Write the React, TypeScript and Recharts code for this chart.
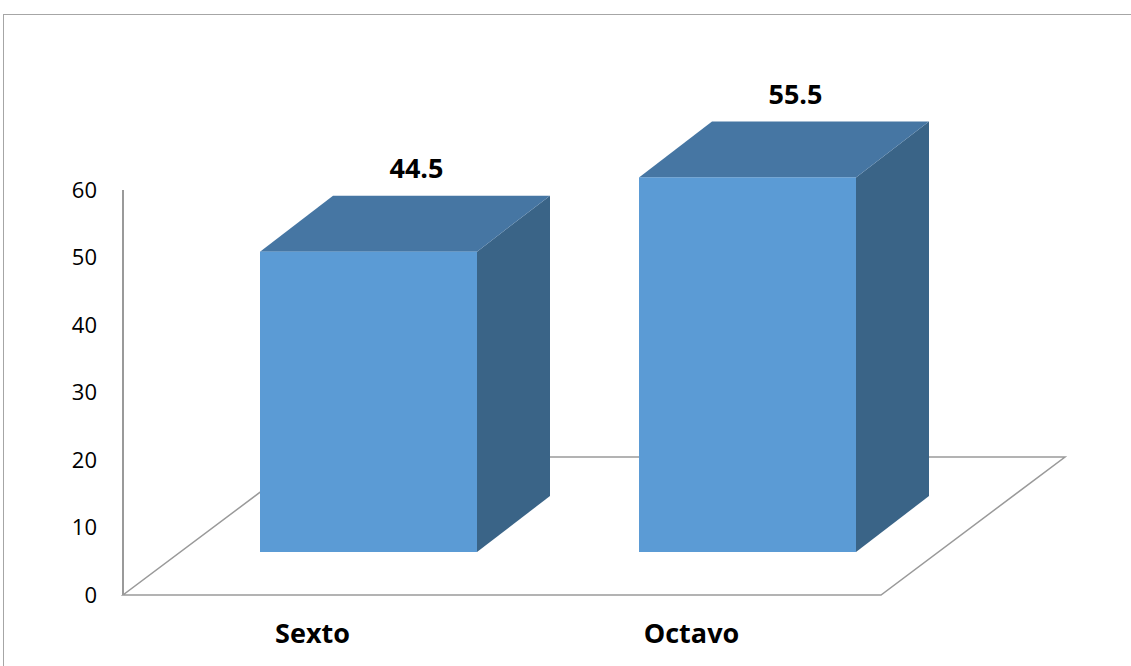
import { BarChart, Bar, XAxis, YAxis, ReferenceArea, LabelList } from 'recharts';

const categories = ['Sexto', 'Octavo'];
const percentages = [44.5, 55.5];
const yTicks = [0, 10, 20, 30, 40, 50, 60];

const data = categories.map((grade, i) => ({ grade, value: percentages[i] }));

// fake 3D projection offsets
const FLOOR_DX = 184;
const FLOOR_DY = -138;
const FRONT_DX = 56;
const FRONT_DY = -43;
const DEPTH_DX = 73;
const DEPTH_DY = -56;

const FRONT = '#5B9BD5';
const TOP = '#4676A3';
const SIDE = '#3A6487';
const GRID = '#9a9a9a';

const Box = (props: any) => {
  const { x, y, width, height } = props;
  const fx = x + FRONT_DX;
  const fy = y + FRONT_DY;
  const bottom = fy + height;
  const top = `${fx},${fy} ${fx + DEPTH_DX},${fy + DEPTH_DY} ${fx + width + DEPTH_DX},${fy + DEPTH_DY} ${fx + width},${fy}`;
  const side = `${fx + width},${fy} ${fx + width + DEPTH_DX},${fy + DEPTH_DY} ${fx + width + DEPTH_DX},${bottom + DEPTH_DY} ${fx + width},${bottom}`;
  return (
    <g>
      <polygon points={side} fill={SIDE} />
      <polygon points={top} fill={TOP} />
      <rect x={fx} y={fy} width={width} height={height} fill={FRONT} />
    </g>
  );
};

const Floor = (props: any) => {
  const { x, y, width, height } = props;
  const by = y + height;
  const pts = `${x},${by} ${x + width},${by} ${x + width + FLOOR_DX},${by + FLOOR_DY} ${x + FLOOR_DX},${by + FLOOR_DY}`;
  return (
    <g>
      <polygon points={pts} fill="none" stroke={GRID} strokeWidth={1.5} />
      <line x1={x} y1={y} x2={x} y2={by} stroke={GRID} strokeWidth={2} />
    </g>
  );
};

const ValueLabel = (props: any) => {
  const { x, y, width, value } = props;
  return (
    <text
      x={x + FRONT_DX + width / 2 + 48}
      y={y + FRONT_DY + DEPTH_DY - 28}
      textAnchor="middle"
      dominantBaseline="central"
      fontFamily="Open Sans"
      fontWeight="bold"
      fontSize={27}
      fill="#000"
    >
      {value}
    </text>
  );
};

export default function App() {
  return (
    <div style={{ position: 'absolute', left: 0, top: 0, width: 1131, height: 666, overflow: 'hidden', background: '#fff' }}>
      <div
        style={{
          position: 'absolute',
          left: 3,
          top: 14,
          width: 1200,
          height: 800,
          border: '1.5px solid #a6a6a6',
        }}
      />
      <BarChart
        width={1131}
        height={666}
        data={data}
        margin={{ top: 190, right: 250, bottom: 11, left: 0 }}
        style={{ position: 'absolute', left: 0, top: 0 }}
      >
        <XAxis
          dataKey="grade"
          axisLine={false}
          tickLine={false}
          height={60}
          tickMargin={23}
          tick={{ fill: '#000', fontFamily: 'Open Sans', fontWeight: 'bold', fontSize: 27 }}
        />
        <YAxis
          domain={[0, 60]}
          ticks={yTicks}
          width={123}
          axisLine={false}
          tickLine={false}
          tickMargin={20}
          tick={{ fill: '#000', fontFamily: 'Open Sans', fontSize: 22 }}
        />
        <ReferenceArea y1={0} y2={60} shape={<Floor />} ifOverflow="visible" />
        <Bar dataKey="value" barSize={217} shape={<Box />} isAnimationActive={false}>
          <LabelList dataKey="value" content={<ValueLabel />} />
        </Bar>
      </BarChart>
    </div>
  );
}
